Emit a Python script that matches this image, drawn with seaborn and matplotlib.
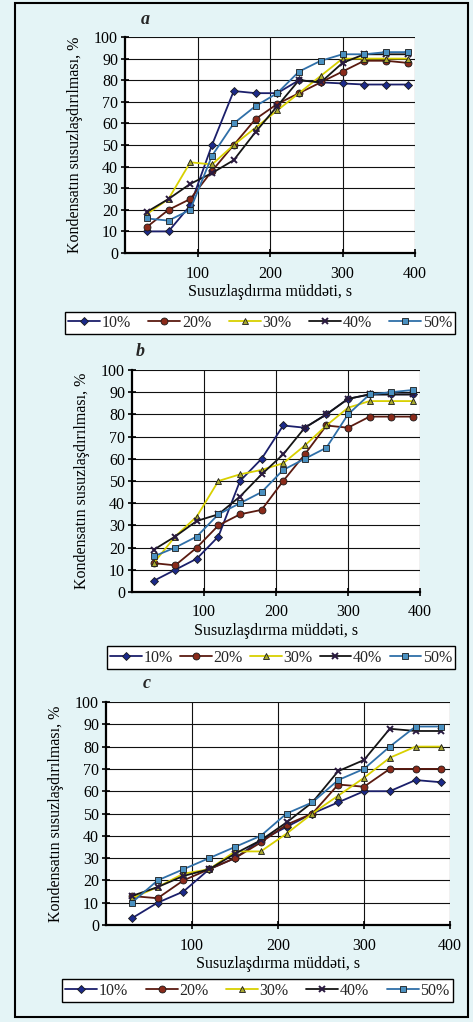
import numpy as np
import pandas as pd
import matplotlib
matplotlib.use("Agg")
import matplotlib.pyplot as plt
from matplotlib.patches import Rectangle
import seaborn as sns

sns.set_theme(style="white")
plt.rcParams['font.family'] = ['Liberation Serif', 'DejaVu Serif']

time_s = [30, 60, 90, 120, 150, 180, 210, 240, 270, 300, 330, 360, 390]
series_labels = ["10%", "20%", "30%", "40%", "50%"]

a_10 = [10, 10, 22, 50, 75, 74, 74, 80, 79, 78.5, 78, 78, 78]
a_20 = [12, 20, 25, 38, 50, 62, 69, 74, 79, 84, 89, 89, 88]
a_30 = [18, 25, 42, 41, 50, 58, 66, 74, 82, 90, 90, 90, 90]
a_40 = [19, 25, 32, 37, 43, 56, 68, 80, 79, 88, 92, 92, 92]
a_50 = [16, 15, 20, 45, 60, 68, 74, 84, 89, 92, 92, 93, 93]

b_10 = [5, 10, 15, 25, 50, 60, 75, 74, 80, 87, 89, 89, 89]
b_20 = [13, 12, 20, 30, 35, 37, 50, 62, 75, 74, 79, 79, 79]
b_30 = [13, 25, 34, 50, 53, 55, 58, 66, 75, 83, 86, 86, 86]
b_40 = [19, 25, 32, 35, 43, 53, 62, 74, 80, 87, 89, 89, 89]
b_50 = [16, 20, 25, 35, 40, 45, 55, 60, 65, 80, 89, 90, 91]

c_10 = [3, 10, 15, 25, 30, 38, 44, 50, 55, 60, 60, 65, 64]
c_20 = [13, 12, 20, 25, 30, 37, 45, 50, 63, 62, 70, 70, 70]
c_30 = [12, 17, 23, 25, 33, 33, 41, 50, 58, 66, 75, 80, 80]
c_40 = [13, 17, 22, 25, 32, 38, 46, 55, 69, 74, 88, 87, 87]
c_50 = [10, 20, 25, 30, 35, 40, 50, 55, 65, 70, 80, 89, 89]

panels = [
    ("a", [a_10, a_20, a_30, a_40, a_50]),
    ("b", [b_10, b_20, b_30, b_40, b_50]),
    ("c", [c_10, c_20, c_30, c_40, c_50]),
]

line_colors = ["#1b1f6b", "#5a1a10", "#d8d000", "#151515", "#2f6fa8"]
marker_faces = ["#1c2a8a", "#8a2a1a", "#a8a830", "#2a1a40", "#4a90c0"]
markers = ["D", "o", "^", "x", "s"]
msizes = [4, 5, 5, 5, 5]

xlabel = "Susuzlaşdırma müddəti, s"
ylabel = "Kondensatın susuzlaşdırılması, %"

bg = "#e4f4f6"
fig = plt.figure(figsize=(4.73, 10.22), dpi=100, facecolor=bg)
W, H = 473, 1022

# axes boxes in pixel coordinates: (x0, x400, ytop, ybottom)
boxes = [(125, 415, 37, 253), (132, 420, 370, 592), (106, 450, 702, 925)]
legend_boxes = [(58, 462, 312, 334), (100, 462, 647, 668), (53, 462, 980, 1001)]
legend_spacing = [1.1, 0.45, 1.1]
label_pos = [(145, 20), (140, 352), (147, 684)]

for (tag, data), (x0, x1, yt, yb), lb, cs, lp in zip(panels, boxes, legend_boxes, legend_spacing, label_pos):
    ax = fig.add_axes([x0 / W, 1 - yb / H, (x1 - x0) / W, (yb - yt) / H])
    ax.set_facecolor("white")
    for vals, lab, lc, mf, mk, ms in zip(data, series_labels, line_colors, marker_faces, markers, msizes):
        df = pd.DataFrame({"t": time_s, "v": vals})
        sns.lineplot(data=df, x="t", y="v", ax=ax, color=lc, linewidth=1.3,
                     marker=mk, markersize=ms, markerfacecolor=mf,
                     markeredgecolor=("#1a1a1a" if mk != "x" else "#2a1a40"),
                     markeredgewidth=(0.6 if mk != "x" else 1.4), label=lab, legend=False)
    ax.set_xlim(0, 400)
    ax.set_ylim(0, 100)
    ax.set_xticks([100, 200, 300, 400])
    ax.set_yticks(range(0, 101, 10))
    ax.grid(True, color="#111111", linewidth=0.8)
    for s in ["top", "right"]:
        ax.spines[s].set_visible(False)
    for s in ["left", "bottom"]:
        ax.spines[s].set_color("black")
        ax.spines[s].set_linewidth(1.6)
    ax.tick_params(axis="both", direction="inout", length=6, width=1.2, colors="black",
                   labelsize=11.5, bottom=True, left=True)
    ax.tick_params(axis="x", pad=6)
    ax.tick_params(axis="y", pad=2)
    ax.set_xlabel(xlabel, fontsize=11.5, color="black", labelpad=2)
    ax.set_ylabel(ylabel, fontsize=11.5, color="black", labelpad=8)
    fig.text(lp[0] / W, 1 - lp[1] / H, tag, fontsize=13, fontweight="bold",
             fontstyle="italic", ha="center", va="center")

    handles, labels = ax.get_legend_handles_labels()
    lx0, lx1, lyt, lyb = lb
    leg = fig.legend(handles, labels, loc="center",
                     bbox_to_anchor=((lx0 + lx1) / 2 / W, 1 - (lyt + lyb) / 2 / H),
                     ncol=5, frameon=True, fancybox=False, fontsize=11.5,
                     handlelength=2.0, handletextpad=0.1, columnspacing=cs,
                     borderpad=0.2, borderaxespad=0)
    leg.get_frame().set_edgecolor("black")
    leg.get_frame().set_linewidth(1.0)
    leg.get_frame().set_facecolor("white")
    leg.get_frame().set_alpha(1)

# outer frame
fig.patches.append(Rectangle((15 / W, 1 - 1017 / H), (468 - 15) / W, (1017 - 3) / H,
                             transform=fig.transFigure, fill=False,
                             edgecolor="black", linewidth=1.5))

fig.savefig("out.png", dpi=100, facecolor=bg)
